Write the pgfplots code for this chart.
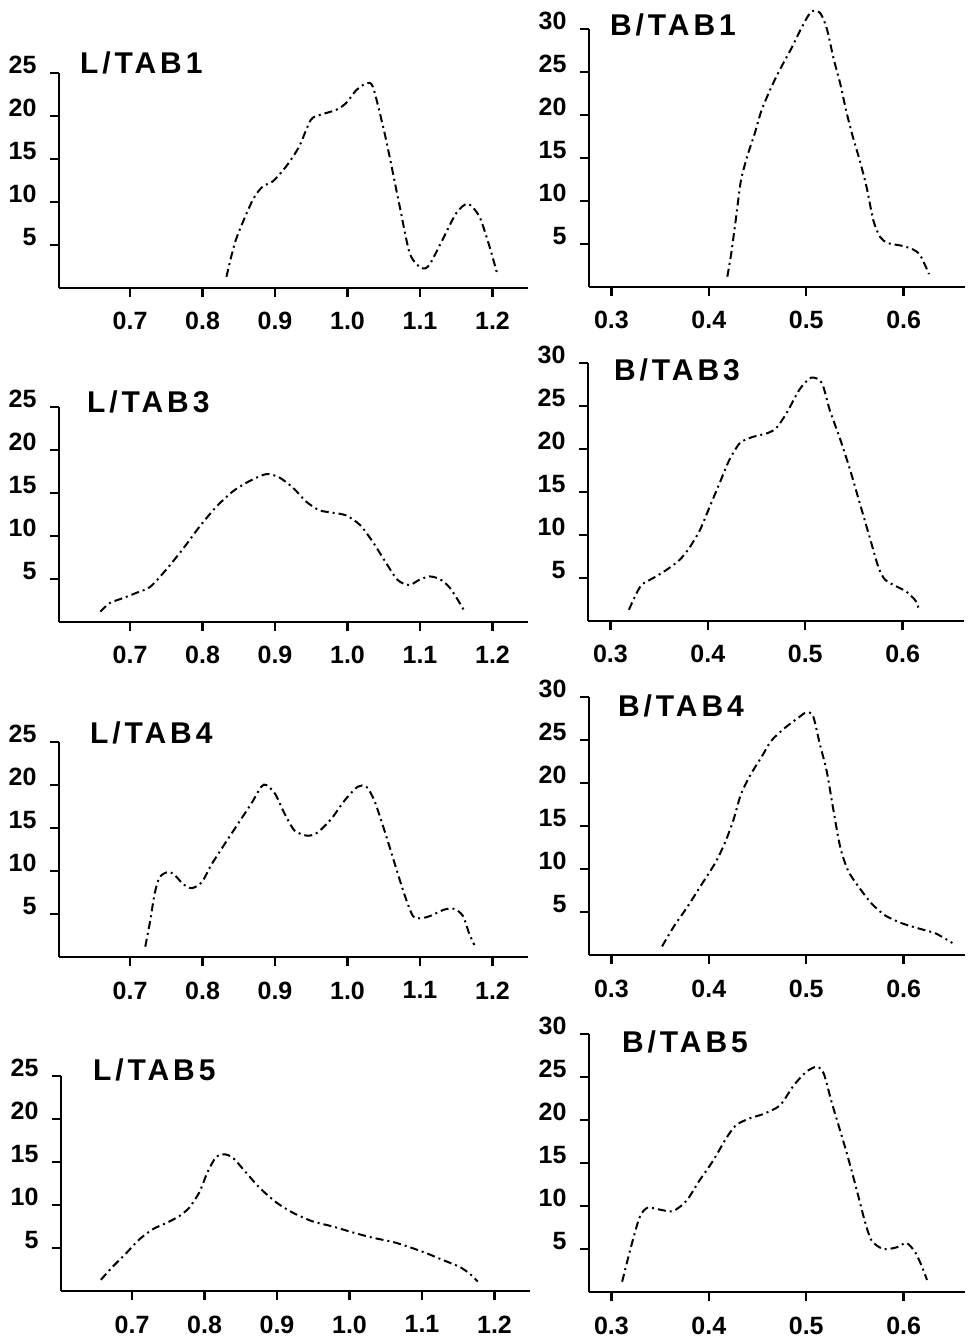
\documentclass[border=0pt]{standalone}
\usepackage{fontspec}
\setmainfont{Liberation Sans}
\newfontfamily\titlefont{Liberation Sans}[LetterSpace=13]
\usepackage{pgfplots}
\pgfplotsset{compat=1.18}

\pgfplotsset{
  panel/.style={
    scale only axis, anchor=south west, clip=false,
    axis x line=bottom, axis y line=left,
    axis line style={line width=2.8pt, -},
    ymin=0, tick align=outside, major tick length=9pt,
    every tick/.style={line width=2.5pt, black},
    ticklabel style={font=\fontsize{25}{25}\selectfont\bfseries},
    /pgf/number format/assume math mode=true,
    yticklabel style={anchor=base east, xshift=-10pt},
    xticklabel style={anchor=north, yshift=-12pt,
      /pgf/number format/.cd, fixed, fixed zerofill, precision=1},
  },
  lpanel/.style={panel, width=469pt, height=215pt,
    xmin=0.602, xmax=1.249, ymax=25,
    xtick={0.7,0.8,0.9,1.0,1.1,1.2}, ytick={5,10,15,20,25}},
  rpanel/.style={panel, width=376pt, height=258pt,
    xmin=0.277, xmax=0.663, ymax=30,
    xtick={0.3,0.4,0.5,0.6}, ytick={5,10,15,20,25,30}},
  curve/.style={black, line width=2pt, no markers, smooth, tension=0.45,
    dash pattern=on 8pt off 4pt on 2pt off 4pt},
}

\begin{document}
\begin{tikzpicture}
\path[use as bounding box] (0,0) rectangle (970pt,-1339pt);

% ---- left column: L/TAB ----
\begin{axis}[lpanel, at={(59pt,-288pt)}]
\addplot[curve] coordinates {
(0.833,1.3) (0.846,5.6) (0.869,10.2) (0.883,11.8) (0.897,12.4) (0.915,14.1)
(0.933,16.4) (0.949,19.5) (0.961,20.1) (0.984,20.7) (0.998,21.5) (1.012,23.0)
(1.026,23.8) (1.035,23.4) (1.049,18.8) (1.058,15.3) (1.072,9.5) (1.086,4.0)
(1.102,2.3) (1.113,2.7) (1.131,5.6) (1.150,8.7) (1.166,9.8) (1.182,8.3)
(1.196,4.8) (1.207,1.5)};
\end{axis}

\begin{axis}[lpanel, at={(59pt,-622pt)}]
\addplot[curve] coordinates {
(0.659,1.2) (0.672,2.2) (0.691,2.8) (0.709,3.4) (0.728,4.1) (0.750,6.1)
(0.773,8.5) (0.796,11.1) (0.819,13.4) (0.842,15.2) (0.865,16.4) (0.888,17.2)
(0.906,16.8) (0.925,15.6) (0.943,14.0) (0.961,13.0) (0.980,12.7) (0.998,12.4)
(1.017,11.3) (1.035,9.3) (1.053,6.9) (1.069,4.9) (1.085,4.3) (1.099,4.9)
(1.113,5.3) (1.127,5.0) (1.140,4.1) (1.152,2.6) (1.161,1.3)};
\end{axis}

\begin{axis}[lpanel, at={(59pt,-957pt)}]
\addplot[curve] coordinates {
(0.721,1.2) (0.728,4.3) (0.734,7.4) (0.741,9.3) (0.753,9.9) (0.762,9.5)
(0.773,8.5) (0.785,8.0) (0.799,8.7) (0.812,10.7) (0.831,13.2) (0.849,15.5)
(0.867,17.8) (0.881,19.8) (0.888,20.0) (0.900,19.0) (0.913,16.7) (0.927,14.7)
(0.945,14.1) (0.959,14.5) (0.978,16.1) (0.996,18.2) (1.014,19.8) (1.026,19.8)
(1.037,18.2) (1.051,14.7) (1.065,10.9) (1.078,7.4) (1.090,4.8) (1.101,4.5)
(1.115,4.8) (1.133,5.5) (1.147,5.6) (1.159,4.8) (1.168,2.7) (1.175,1.4)};
\end{axis}

\begin{axis}[lpanel, at={(61pt,-1291pt)}]
\addplot[curve] coordinates {
(0.657,1.3) (0.673,2.8) (0.692,4.4) (0.710,6.0) (0.729,7.2) (0.747,7.9)
(0.765,8.7) (0.779,9.7) (0.793,11.5) (0.804,13.8) (0.816,15.6) (0.827,15.9)
(0.839,15.5) (0.857,13.8) (0.876,12.0) (0.899,10.3) (0.922,9.1) (0.949,8.1)
(0.977,7.5) (1.005,6.8) (1.032,6.2) (1.060,5.7) (1.083,5.1) (1.106,4.4)
(1.129,3.6) (1.152,2.8) (1.166,2.0) (1.177,1.1)};
\end{axis}

% ---- right column: B/TAB ----
\begin{axis}[rpanel, at={(589pt,-287pt)}]
\addplot[curve] coordinates {
(0.419,1.2) (0.423,3.9) (0.428,8.1) (0.433,12.4) (0.440,15.4) (0.447,17.8)
(0.454,20.5) (0.464,23.2) (0.474,25.5) (0.485,27.8) (0.495,30.1) (0.505,32.0)
(0.514,31.9) (0.521,30.1) (0.528,26.6) (0.535,23.6) (0.541,20.5) (0.548,17.4)
(0.555,14.7) (0.562,11.6) (0.569,7.7) (0.576,5.8) (0.584,5.1) (0.598,4.8)
(0.609,4.4) (0.617,3.7) (0.626,1.5)};
\end{axis}

\begin{axis}[rpanel, at={(588pt,-621pt)}]
\addplot[curve] coordinates {
(0.319,1.3) (0.325,2.8) (0.332,4.2) (0.344,5.0) (0.357,5.9) (0.371,7.1)
(0.381,8.5) (0.392,10.6) (0.402,13.3) (0.412,16.0) (0.422,18.7) (0.433,20.7)
(0.446,21.4) (0.460,21.8) (0.470,22.4) (0.481,24.2) (0.494,26.9) (0.506,28.3)
(0.517,27.7) (0.525,24.6) (0.536,21.1) (0.546,17.6) (0.556,13.7) (0.566,9.8)
(0.575,6.3) (0.582,4.8) (0.594,4.0) (0.604,3.4) (0.613,2.4) (0.617,1.3)};
\end{axis}

\begin{axis}[rpanel, at={(589pt,-955pt)}]
\addplot[curve] coordinates {
(0.352,1.0) (0.364,3.3) (0.378,5.6) (0.392,8.1) (0.406,10.6) (0.416,12.9)
(0.425,15.6) (0.433,18.7) (0.443,21.0) (0.454,23.0) (0.464,24.9) (0.478,26.4)
(0.492,27.6) (0.500,28.2) (0.507,27.8) (0.514,24.5) (0.521,21.4) (0.528,16.8)
(0.535,12.5) (0.543,9.8) (0.554,7.9) (0.567,6.0) (0.581,4.6) (0.598,3.7)
(0.615,3.1) (0.633,2.5) (0.650,1.4)};
\end{axis}

\begin{axis}[rpanel, at={(589pt,-1292pt)}]
\addplot[curve] coordinates {
(0.311,1.2) (0.320,5.2) (0.329,8.7) (0.337,9.8) (0.349,9.6) (0.363,9.4)
(0.377,10.6) (0.390,12.9) (0.404,15.2) (0.418,17.9) (0.428,19.4) (0.442,20.2)
(0.456,20.7) (0.473,21.7) (0.487,24.0) (0.500,25.6) (0.511,26.2) (0.518,25.4)
(0.526,22.1) (0.535,18.7) (0.543,15.6) (0.552,11.8) (0.560,8.3) (0.567,6.0)
(0.579,5.0) (0.593,5.2) (0.603,5.7) (0.612,4.6) (0.619,2.9) (0.624,1.4)};
\end{axis}

% ---- panel titles ----
\begin{scope}[every node/.style={anchor=base west, inner sep=0pt,
    font=\titlefont\fontsize{30}{30}\selectfont\bfseries}]
\node at (80pt,-73pt) {L/TAB1};
\node at (610pt,-35pt) {B/TAB1};
\node at (87pt,-412pt) {L/TAB3};
\node at (614pt,-380pt) {B/TAB3};
\node at (90pt,-743pt) {L/TAB4};
\node at (618pt,-716pt) {B/TAB4};
\node at (93pt,-1080pt) {L/TAB5};
\node at (622pt,-1052pt) {B/TAB5};
\end{scope}
\end{tikzpicture}
\end{document}
